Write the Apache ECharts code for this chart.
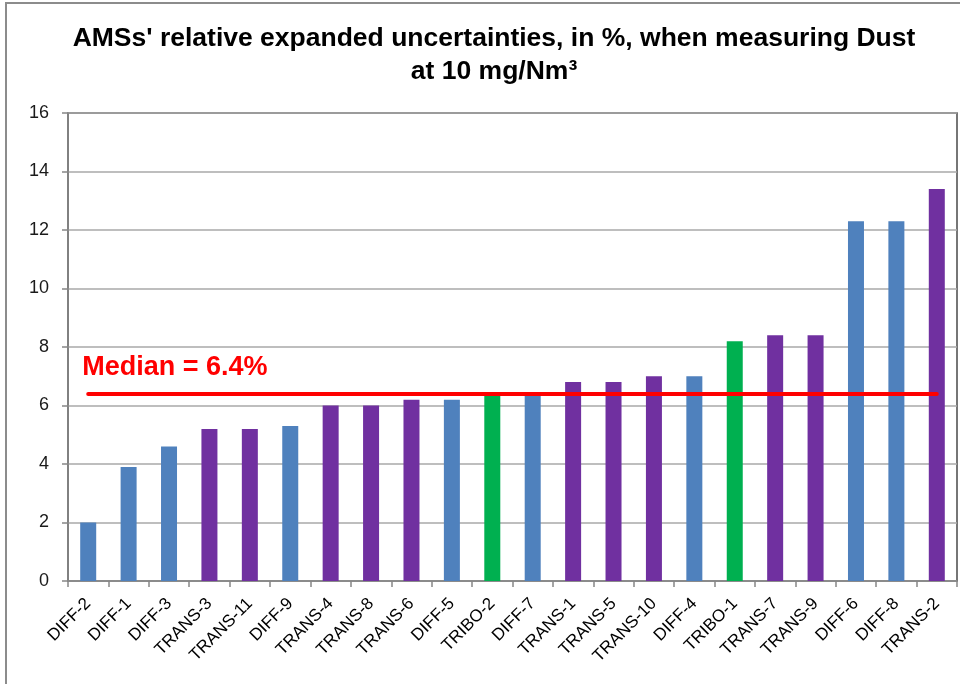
<!DOCTYPE html>
<html>
<head>
<meta charset="utf-8">
<script src="https://cdn.jsdelivr.net/npm/echarts@6/dist/echarts.min.js"></script>
<style>
  html, body { margin: 0; padding: 0; background: #fff; }
  #chart { width: 960px; height: 684px; }
</style>
</head>
<body>
<div id="chart"></div>
<script>
// Instruments, sorted by expanded uncertainty
const categories = ['DIFF-2', 'DIFF-1', 'DIFF-3', 'TRANS-3', 'TRANS-11', 'DIFF-9', 'TRANS-4', 'TRANS-8',
  'TRANS-6', 'DIFF-5', 'TRIBO-2', 'DIFF-7', 'TRANS-1', 'TRANS-5', 'TRANS-10', 'DIFF-4', 'TRIBO-1',
  'TRANS-7', 'TRANS-9', 'DIFF-6', 'DIFF-8', 'TRANS-2'];
// Relative expanded uncertainty, %
const uncertainty = [2.0, 3.9, 4.6, 5.2, 5.2, 5.3, 6.0, 6.0, 6.2, 6.2, 6.4, 6.4, 6.8, 6.8, 7.0, 7.0, 8.2,
  8.4, 8.4, 12.3, 12.3, 13.4];
// Measuring principle of each instrument
const principle = ['DIFF', 'DIFF', 'DIFF', 'TRANS', 'TRANS', 'DIFF', 'TRANS', 'TRANS', 'TRANS', 'DIFF',
  'TRIBO', 'DIFF', 'TRANS', 'TRANS', 'TRANS', 'DIFF', 'TRIBO', 'TRANS', 'TRANS', 'DIFF', 'DIFF', 'TRANS'];
const median = 6.4;
const yTicks = [0, 2, 4, 6, 8, 10, 12, 14, 16];

const principleColor = { DIFF: '#4F81BD', TRANS: '#7030A0', TRIBO: '#00B050' };

const chart = echarts.init(document.getElementById('chart'), null, { renderer: 'canvas' });

chart.setOption({
  backgroundColor: '#ffffff',
  animation: false,
  title: {
    text: "AMSs' relative expanded uncertainties, in %, when measuring Dust\nat 10 mg/Nm³",
    left: 489,
    textAlign: 'center',
    top: 17,
    textStyle: {
      fontFamily: 'Liberation Sans',
      fontWeight: 'bold',
      fontSize: 26.5,
      lineHeight: 33,
      color: '#000'
    }
  },
  graphic: [{
    type: 'rect',
    shape: { x: 6, y: 3, width: 1000, height: 800 },
    style: { fill: 'none', stroke: '#8c8c8c', lineWidth: 2 },
    silent: true
  }],
  grid: {
    left: 68, right: 3, top: 113, bottom: 103,
    show: true, borderColor: '#4a4a4a', borderWidth: 1.5
  },
  xAxis: {
    type: 'category',
    data: categories,
    axisLine: { lineStyle: { color: '#868686', width: 1.5 } },
    axisTick: { show: true, length: 6, lineStyle: { color: '#868686', width: 1.5 } },
    axisLabel: {
      rotate: 45, interval: 0, margin: 20,
      fontFamily: 'Liberation Sans', fontSize: 17, color: '#000'
    }
  },
  yAxis: {
    type: 'value',
    min: yTicks[0], max: yTicks[yTicks.length - 1], interval: 2,
    axisLine: { show: true, lineStyle: { color: '#868686', width: 1.5 } },
    axisTick: { show: true, length: 6, lineStyle: { color: '#868686', width: 1.5 } },
    axisLabel: { margin: 19, fontFamily: 'Liberation Sans', fontSize: 18, color: '#1a1a1a' },
    splitLine: { lineStyle: { color: '#a8a8a8', width: 1.5 } }
  },
  series: [{
    type: 'bar',
    barWidth: 16,
    data: uncertainty.map((v, i) => ({
      value: v,
      itemStyle: { color: principleColor[principle[i]] }
    })),
    markLine: {
      silent: true,
      symbol: ['none', 'none'],
      lineStyle: { color: '#FF0000', width: 4, type: 'solid', cap: 'round' },
      label: {
        show: true,
        position: 'insideStartTop',
        formatter: 'Median = ' + median + '%',
        color: '#FF0000',
        fontFamily: 'Liberation Sans',
        fontWeight: 'bold',
        fontSize: 27,
        distance: [-6, 13]
      },
      data: [[
        { coord: [categories[0], median] },
        { coord: [categories[categories.length - 1], median] }
      ]]
    }
  }]
});
</script>
</body>
</html>
